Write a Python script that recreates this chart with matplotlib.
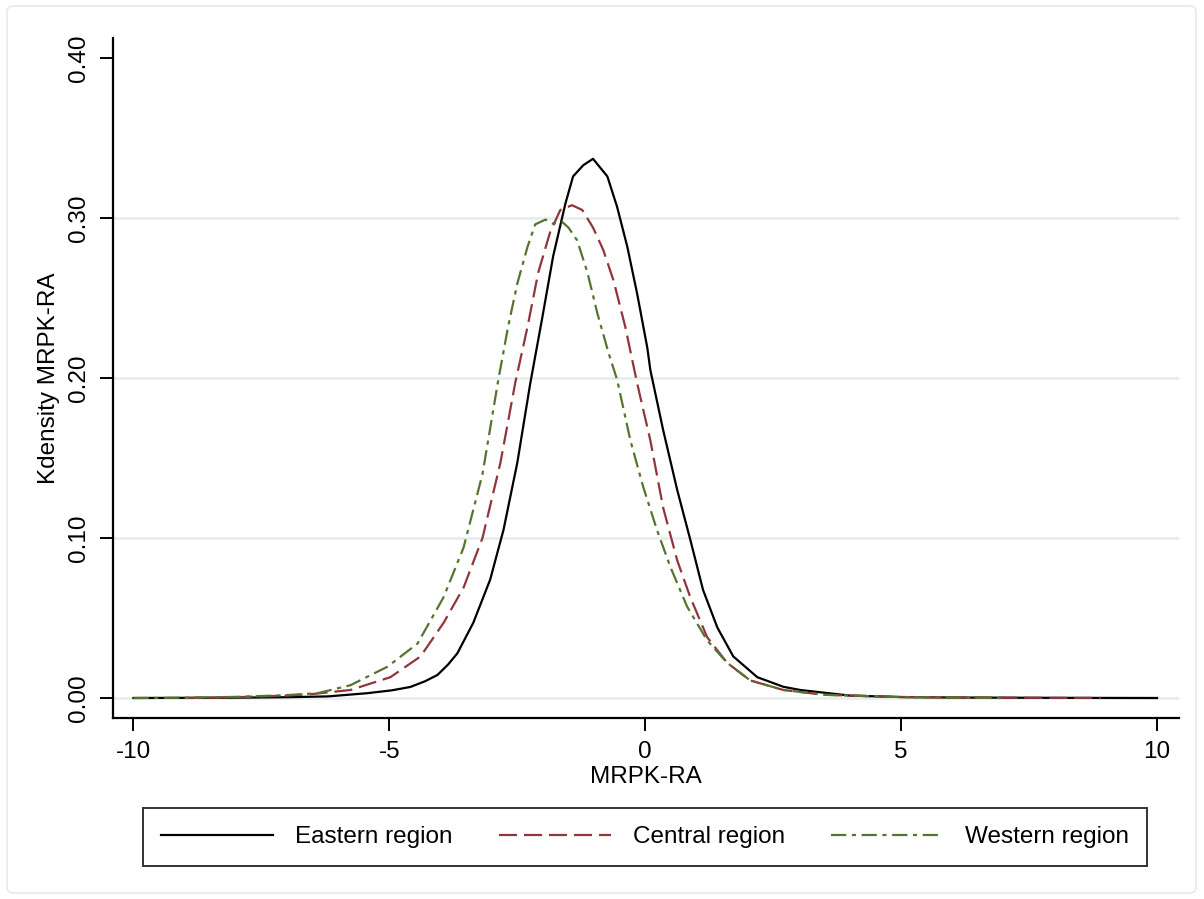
import matplotlib
matplotlib.use("Agg")
import matplotlib.pyplot as plt
from matplotlib.patches import FancyBboxPatch

plt.rcParams['font.family'] = ['Liberation Sans', 'DejaVu Sans']
plt.rcParams['lines.scale_dashes'] = False
plt.rcParams['axes.unicode_minus'] = False

# kdensity values
east_x = [-10.0, -9.0, -8.0, -7.0, -6.2, -5.43, -4.95, -4.59, -4.3, -4.06, -3.85, -3.67,
          -3.36, -3.03, -2.77, -2.50, -2.25, -2.01, -1.80, -1.56, -1.41, -1.21, -1.02,
          -0.74, -0.55, -0.35, -0.16, 0.04, 0.10, 0.35, 0.625, 0.88, 1.13, 1.41, 1.72,
          2.19, 2.70, 3.03, 4.0, 5.0, 6.0, 8.0, 10.0]
east_y = [0.0, 0.0001, 0.0002, 0.0005, 0.001, 0.003, 0.0048, 0.0069, 0.0105, 0.0144,
          0.021, 0.028, 0.047, 0.074, 0.105, 0.147, 0.196, 0.238, 0.276, 0.309, 0.326,
          0.333, 0.337, 0.326, 0.307, 0.282, 0.253, 0.219, 0.205, 0.1675, 0.13, 0.099,
          0.0675, 0.044, 0.026, 0.013, 0.007, 0.005, 0.0015, 0.0006, 0.0003, 0.0001, 0.0]

central_x = [-9.0, -8.0, -7.0, -6.5, -5.76, -4.98, -4.39, -3.94, -3.55, -3.18, -2.83,
             -2.54, -2.30, -2.09, -1.86, -1.66, -1.43, -1.23, -1.02, -0.82, -0.62, -0.39,
             -0.16, 0.10, 0.35, 0.625, 0.88, 1.21, 1.60, 2.05, 2.70, 3.5, 5.0, 7.0, 8.9]
central_y = [0.0, 0.0005, 0.0015, 0.0025, 0.005, 0.013, 0.026, 0.047, 0.069, 0.10, 0.147,
             0.197, 0.232, 0.266, 0.291, 0.305, 0.308, 0.305, 0.294, 0.28, 0.261, 0.232,
             0.197, 0.161, 0.119, 0.086, 0.063, 0.038, 0.022, 0.011, 0.005, 0.002, 0.0006,
             0.0002, 0.0]

west_x = [-10.0, -9.0, -8.0, -7.0, -6.4, -5.76, -5.04, -4.45, -3.94, -3.55, -3.18, -2.87,
          -2.68, -2.50, -2.30, -2.15, -1.95, -1.80, -1.62, -1.50, -1.33, -1.13, -0.94,
          -0.72, -0.55, -0.29, -0.04, 0.23, 0.49, 0.82, 1.21, 1.60, 2.05, 2.70, 3.5, 5.0,
          6.0, 7.0]
west_y = [0.0, 0.0002, 0.0007, 0.0018, 0.003, 0.008, 0.0195, 0.034, 0.063, 0.094, 0.14,
          0.199, 0.232, 0.259, 0.282, 0.296, 0.299, 0.2965, 0.2975, 0.294, 0.286, 0.266,
          0.241, 0.216, 0.199, 0.161, 0.132, 0.105, 0.082, 0.057, 0.036, 0.022, 0.011,
          0.005, 0.002, 0.0006, 0.0002, 0.0]

labels = ["Eastern region", "Central region", "Western region"]
x_ticks = [-10, -5, 0, 5, 10]
y_ticks = [0.0, 0.1, 0.2, 0.3, 0.4]

fs = 17.5

fig = plt.figure(figsize=(12.04, 8.99), dpi=100)
ax = fig.add_axes([113/1204, 1-718/899, (1179-113)/1204, (718-38)/899])

# light outer frame like stata graph region
fig.patches.append(FancyBboxPatch((7/1204, 6/899), (1196-7)/1204, (893-6)/899,
                                  boxstyle="round,pad=0,rounding_size=0.006",
                                  transform=fig.transFigure, facecolor='none',
                                  edgecolor='#e6eaea', linewidth=1.2))

for t in y_ticks[:-1]:
    ax.axhline(t, color='#e6eeee', linewidth=2.0, zorder=0)

l1, = ax.plot(east_x, east_y, color='black', linewidth=1.6)
l2, = ax.plot(central_x, central_y, color='#90353b', linewidth=1.6, dashes=(13, 5))
l3, = ax.plot(west_x, west_y, color='#55752f', linewidth=1.6, dashes=(11, 4, 3, 4))

ax.set_xlim(-10.4, 10.43)
ax.set_ylim(-0.0125, 0.4125)
ax.set_xticks(x_ticks)
ax.set_yticks(y_ticks)
ax.set_yticklabels(["%.2f" % v for v in y_ticks], rotation=90, va='center')
ax.tick_params(axis='both', labelsize=fs, width=1.4, length=9.5, pad=7)
for s in ['top', 'right']:
    ax.spines[s].set_visible(False)
for s in ['left', 'bottom']:
    ax.spines[s].set_linewidth(1.6)

ax.set_xlabel("MRPK-RA", fontsize=fs, labelpad=2)
ax.set_ylabel("Kdensity MRPK-RA", fontsize=fs, labelpad=6)

leg = fig.legend([l1, l2, l3], labels, loc='center', ncol=3,
                 bbox_to_anchor=(645/1204, 1-837/899), fontsize=fs,
                 frameon=True, fancybox=False, edgecolor='black',
                 handlelength=4.6, handletextpad=0.9, columnspacing=1.9,
                 borderpad=0.75)
leg.get_frame().set_linewidth(1.4)

fig.savefig("out.png", dpi=100)
